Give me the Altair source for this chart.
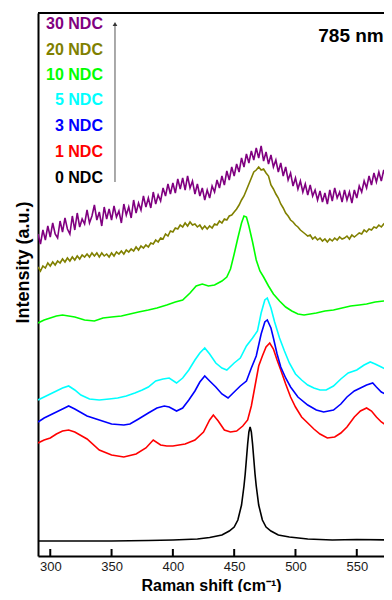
import altair as alt
import pandas as pd
import numpy as np

FONT = "Liberation Sans"

# ---------------- data ----------------
names = ["0 NDC", "1 NDC", "3 NDC", "5 NDC", "10 NDC", "20 NDC", "30 NDC"]
colors = ["#000000", "#ff0000", "#0000ff", "#00ffff", "#00ff00", "#808000", "#800080"]

black_x = [290, 320, 350, 380, 400, 420, 430, 440, 446, 450, 453, 456, 458, 459, 460,
           461, 462, 463, 464, 465, 466, 467, 468, 470, 473, 476, 480, 486, 495, 510,
           530, 550, 580]
black_y = [15, 15, 15, 15.5, 16, 17, 18.5, 21, 25, 29, 36, 51, 70, 82, 97,
           112, 124, 129, 124, 112, 97, 82, 70, 51, 36, 29, 25, 21, 19, 17,
           16, 16.5, 16]

red_x = [290, 295, 300, 305, 310, 315, 320, 330, 340, 350, 360, 370, 378, 384, 390,
         395, 400, 410, 418, 425, 430, 433, 437, 442, 447, 452, 457, 461, 464, 467,
         470, 473, 476, 479, 482, 485, 488, 492, 496, 500, 505, 510, 515, 520, 526,
         532, 537, 542, 548, 553, 558, 562, 566, 570, 575, 580]
red_y = [113, 116, 118, 122, 125, 126, 124, 117, 106, 101, 99, 102, 108, 116, 111,
         110, 110, 112, 116, 124, 136, 141, 135, 126, 124, 125, 130, 136, 150, 170,
         190, 200, 209, 213, 207, 196, 186, 172, 159, 149, 139, 133, 127, 122, 118,
         119, 123, 129, 139, 145, 148, 145, 139, 134, 130, 128]

blue_x = [290, 295, 300, 305, 310, 315, 320, 330, 340, 350, 360, 365, 372, 380, 387,
          393, 397, 403, 408, 413, 418, 422, 426, 430, 435, 440, 445, 450, 455, 460,
          464, 468, 472, 475, 477, 480, 482, 485, 488, 492, 496, 502, 510, 517, 523,
          531, 537, 542, 548, 553, 558, 563, 566, 570, 575, 580]
blue_y = [134, 138, 141, 144, 147, 150, 147, 140, 136, 132, 131, 132, 137, 143, 148,
          150, 149, 145, 148, 156, 165, 174, 180, 175, 169, 162, 158, 164, 170, 175,
          188, 200, 222, 234, 236, 228, 218, 202, 189, 178, 169, 159, 151, 146, 144,
          146, 152, 159, 165, 168, 171, 173, 169, 164, 161, 158]

cyan_x = [290, 295, 300, 305, 310, 315, 320, 325, 332, 340, 348, 355, 362, 369, 375,
          380, 386, 392, 397, 403, 408, 413, 418, 422, 426, 430, 435, 440, 444, 450,
          455, 460, 465, 469, 472, 475, 477, 480, 483, 487, 491, 495, 500, 505, 510,
          515, 520, 525, 531, 537, 543, 550, 556, 561, 565, 570, 575, 580]
cyan_y = [156, 159, 162, 165, 168, 170, 166, 161, 157, 156, 157, 158, 160, 163, 166,
          169, 175, 177, 178, 173, 178, 186, 196, 203, 208, 202, 193, 188, 186, 193,
          198, 210, 218, 225, 243, 256, 258, 248, 234, 218, 205, 193, 182, 176, 171,
          168, 166, 166, 170, 177, 183, 186, 191, 194, 192, 189, 186, 185]

green_x = [290, 295, 300, 305, 310, 315, 320, 328, 336, 343, 350, 358, 365, 372, 380,
           387, 395, 402, 408, 414, 419, 424, 429, 434, 440, 444, 447, 450, 453, 456,
           458, 460, 462, 465, 468, 471, 474, 478, 482, 487, 492, 497, 502, 507, 512,
           517, 524, 531, 538, 545, 552, 558, 565, 572, 580]
green_y = [233, 236, 238, 240, 241, 240, 239, 236, 235, 238, 239, 240, 242, 244, 246,
           248, 251, 254, 256, 263, 270, 272, 270, 271, 275, 279, 287, 302, 318, 333,
           340, 339, 330, 314, 296, 285, 279, 270, 262, 255, 249, 245, 242, 241, 242,
           243, 245, 246, 248, 250, 251, 252, 254, 255, 256]

# olive and purple read every 2 cm-1 (290 ... 580)
olive_x = list(range(290, 581, 2))
olive_y = [289, 285, 290, 288, 293, 290, 294, 291, 295, 293,
           297, 294, 298, 295, 299, 296, 300, 297, 301, 299,
           302, 299, 303, 300, 303, 299, 303, 300, 302, 299,
           303, 300, 304, 302, 305, 302, 306, 304, 307, 305,
           309, 306, 310, 308, 311, 309, 313, 312, 316, 314,
           318, 317, 322, 320, 325, 324, 328, 327, 331, 329,
           333, 330, 334, 331, 332, 329, 331, 327, 330, 327,
           330, 328, 332, 331, 335, 333, 337, 336, 340, 341,
           344, 347, 351, 356, 360, 366, 372, 378, 384, 386,
           389, 386, 387, 383, 380, 371, 367, 362, 358, 352,
           348, 343, 340, 336, 334, 331, 329, 326, 324, 322,
           320, 321, 317, 319, 316, 318, 315, 317, 314, 317,
           315, 318, 316, 319, 317, 318, 320, 317, 321, 319,
           321, 323, 322, 326, 324, 327, 326, 329, 328, 331,
           329, 332, 330, 334, 331, 333]

purple_x = list(range(290, 581, 2))
purple_y = [322, 312, 326, 316, 330, 319, 333, 322, 318, 335,
            324, 338, 327, 322, 340, 326, 343, 329, 337, 332,
            346, 333, 340, 351, 336, 344, 330, 349, 337, 347,
            336, 350, 339, 345, 333, 352, 341, 349, 338, 356,
            343, 353, 346, 360, 349, 358, 348, 364, 352, 361,
            355, 368, 360, 372, 362, 373, 363, 377, 367, 378,
            366, 380, 368, 375, 362, 372, 360, 368, 356, 366,
            358, 370, 364, 376, 368, 380, 371, 385, 376, 389,
            380, 392, 384, 398, 389, 402, 393, 405, 396, 408,
            398, 410, 395, 404, 392, 401, 389, 396, 384, 393,
            380, 389, 376, 383, 370, 378, 367, 375, 364, 372,
            361, 371, 360, 366, 356, 365, 354, 363, 352, 366,
            355, 368, 358, 364, 354, 366, 356, 364, 353, 366,
            358, 370, 364, 375, 368, 380, 371, 383, 374, 384,
            375, 386, 377, 383, 372, 378]

series = [
    ("0 NDC", black_x, black_y),
    ("1 NDC", red_x, red_y),
    ("3 NDC", blue_x, blue_y),
    ("5 NDC", cyan_x, cyan_y),
    ("10 NDC", green_x, green_y),
    ("20 NDC", olive_x, olive_y),
    ("30 NDC", purple_x, purple_y),
]

tick_values = [300, 350, 400, 450, 500, 550]

# annotation layout (data units)
label_order = ["30 NDC", "20 NDC", "10 NDC", "5 NDC", "3 NDC", "1 NDC", "0 NDC"]
label_y = [532, 506, 481, 456, 430, 404, 378]
label_x = 343

X_MIN, X_MAX = 290, 572.2
Y_MIN, Y_MAX = 0, 543

rows = []
for name, xs, ys in series:
    for x, y in zip(xs, ys):
        rows.append({"sample": name, "shift": x, "intensity": y})
df = pd.DataFrame(rows)

df_lab = pd.DataFrame({"sample": label_order, "y": label_y, "x": [label_x] * len(label_order)})
df_ticks = pd.DataFrame({"t": tick_values})
df_one = pd.DataFrame({"k": [0]})

x_scale = alt.Scale(domain=[X_MIN, X_MAX], nice=False, zero=False)
y_scale = alt.Scale(domain=[Y_MIN, Y_MAX], nice=False, zero=False)
color_scale = alt.Scale(domain=names, range=colors)

lines = alt.Chart(df).mark_line(strokeWidth=1.6, clip=True).encode(
    x=alt.X("shift:Q", scale=x_scale,
            axis=alt.Axis(values=tick_values, title="Raman shift (cm⁻¹)",
                          ticks=False, domain=True, domainColor="#000000",
                          domainWidth=2, grid=False,
                          labelFont=FONT, labelFontSize=13, labelColor="#1a1a1a",
                          labelPadding=4,
                          titleFont=FONT, titleFontSize=16, titleFontWeight="bold",
                          titleColor="#000000", titleBaseline="alphabetic", titleY=34)),
    y=alt.Y("intensity:Q", scale=y_scale,
            axis=alt.Axis(labels=False, ticks=False, domain=True, domainColor="#000000",
                          domainWidth=2, grid=False,
                          title="Intensity (a.u.)",
                          titleFont=FONT, titleFontSize=18, titleFontWeight="bold",
                          titleColor="#000000", titleBaseline="alphabetic",
                          titleX=-10, titleY=249)),
    color=alt.Color("sample:N", scale=color_scale, legend=None),
    detail="sample:N",
)

top_border = alt.Chart(df_one).mark_rule(color="#000000", strokeWidth=2).encode(
    x=alt.datum(X_MIN, scale=x_scale),
    x2=alt.datum(X_MAX),
    y=alt.datum(Y_MAX, scale=y_scale),
)

ticks = alt.Chart(df_ticks).mark_rule(color="#000000", strokeWidth=2).encode(
    x=alt.X("t:Q", scale=x_scale),
    y=alt.datum(0, scale=y_scale),
    y2=alt.datum(7),
)

labels = alt.Chart(df_lab).mark_text(
    font=FONT, fontSize=16, fontWeight="bold", align="right", baseline="middle"
).encode(
    x=alt.X("x:Q", scale=x_scale),
    y=alt.Y("y:Q", scale=y_scale),
    text="sample:N",
    color=alt.Color("sample:N", scale=color_scale, legend=None),
)

arrow_line = alt.Chart(df_one).mark_rule(color="#555555", strokeWidth=1).encode(
    x=alt.datum(352.8, scale=x_scale),
    y=alt.datum(374, scale=y_scale),
    y2=alt.datum(530),
)
arrow_head = alt.Chart(df_one).mark_point(
    shape="triangle-up", filled=True, size=22, color="#333333", opacity=1
).encode(
    x=alt.datum(352.8, scale=x_scale),
    y=alt.datum(532, scale=y_scale),
)

laser = alt.Chart(df_one).mark_text(
    text="785 nm", font=FONT, fontSize=19, fontWeight="bold", align="right",
    baseline="middle", color="#000000"
).encode(
    x=alt.datum(572, scale=x_scale),
    y=alt.datum(520.5, scale=y_scale),
)

chart = alt.layer(lines, top_border, ticks, arrow_line, arrow_head, labels, laser).properties(
    width=346, height=543,
    autosize=alt.AutoSizeParams(type="none"),
    padding={"left": 30, "top": 5, "right": 0, "bottom": 36},
    background="#ffffff",
).configure_view(stroke=None)

chart.save("out.html", embed_options={"renderer": "svg", "actions": False})
